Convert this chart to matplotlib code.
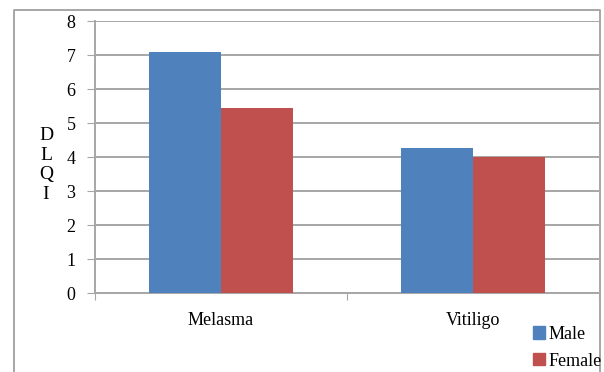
import matplotlib.pyplot as plt
from matplotlib.patches import Patch
from matplotlib.lines import Line2D
import numpy as np

# DLQI scores per disease, split by sex
penyakit = ["Melasma", "Vitiligo"]
skor_male = [7.1, 4.27]
skor_female = [5.45, 4.0]
label_seri = ["Male", "Female"]

BIRU = "#4F81BD"
MERAH = "#C0504D"
ABU = "#a6a6a6"

plt.rcParams['font.family'] = ['Liberation Serif', 'DejaVu Serif']

fig = plt.figure(figsize=(6.04, 3.72), dpi=100)
ax = fig.add_axes([95 / 604, 79 / 372, 504 / 604, 272 / 372])

x = np.arange(len(penyakit))
lebar = 0.285
ax.bar(x - lebar / 2, skor_male, lebar, color=BIRU, zorder=3)
ax.bar(x + lebar / 2, skor_female, lebar, color=MERAH, zorder=3)

ax.set_xlim(-0.5, 1.5)
ax.set_ylim(0, 8)
ax.set_yticks(range(0, 9))
ax.grid(axis='y', color=ABU, linewidth=1.4, zorder=0)
ax.set_axisbelow(True)

# category labels sit between the separator ticks
ax.set_xticks([-0.5, 0.5, 1.5])
ax.set_xticklabels([])
ax.set_xticks(x, minor=True)
ax.set_xticklabels(penyakit, minor=True, fontsize=13)
ax.tick_params(axis='x', which='minor', length=0, pad=14)
ax.tick_params(axis='x', which='major', length=5, color=ABU, direction='out')
ax.tick_params(axis='y', length=6, color=ABU, pad=8, labelsize=13)

for s in ['top', 'right']:
    ax.spines[s].set_visible(False)
for s in ['left', 'bottom']:
    ax.spines[s].set_color(ABU)
    ax.spines[s].set_linewidth(1.4)

fig.text(46 / 604, 1 - 165 / 372, "D\nL\nQ\nI", ha='center', va='center',
         fontsize=14, linespacing=1.2)

handles = [Patch(color=BIRU), Patch(color=MERAH)]
fig.legend(handles, label_seri, loc='upper left',
           bbox_to_anchor=(522 / 604, 1 - 315 / 372), frameon=False,
           fontsize=13, handlelength=0.65, handleheight=0.65,
           handletextpad=0.2, labelspacing=0.55, borderpad=0.1)

# outer chart frame (left, top and right edges)
x0, y0, x1 = 14 / 604, 1 - 10 / 372, 600 / 604
fig.add_artist(Line2D([x0, x0, x1, x1], [0, y0, y0, 0], color=ABU,
                      linewidth=1.4, transform=fig.transFigure))

fig.savefig("out.png", dpi=100)
